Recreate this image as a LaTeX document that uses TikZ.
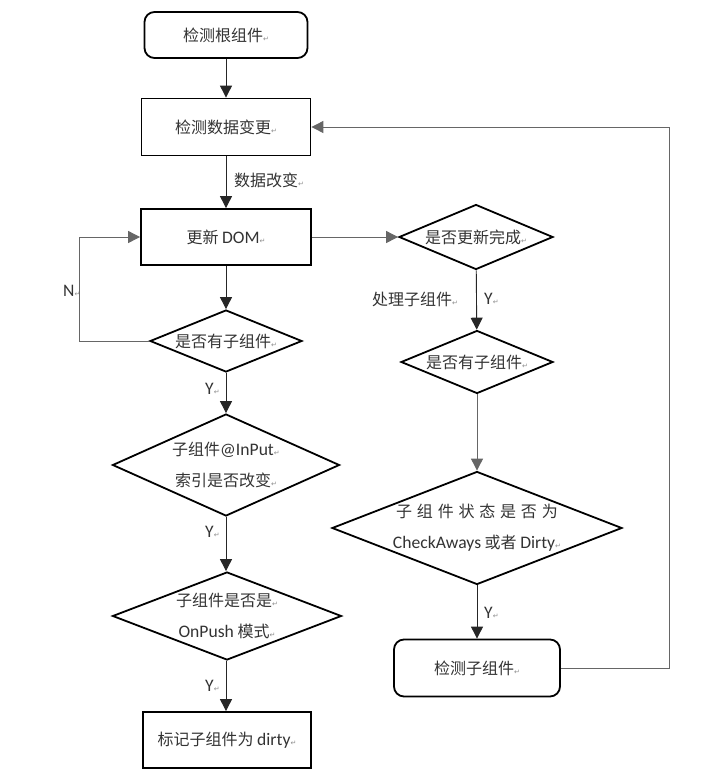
\documentclass[tikz,border=0pt]{standalone}
\usepackage{fontspec}
\setmainfont{Carlito}
\newfontfamily\cjk{Noto Sans CJK SC}
\newfontfamily\lat[Scale=1.1]{Carlito}
\newfontfamily\symb{DejaVu Sans}
\usetikzlibrary{shapes.geometric,arrows.meta}
\newcommand\en[1]{{\lat #1}}
\newcommand\retmark{{\symb\fontsize{7}{7}\selectfont\color{black!45}↵}}

\begin{document}
\begin{tikzpicture}[
        x=1pt, y=-1pt,
        font=\cjk\fontsize{16}{31}\selectfont,
        text=black!80,
        box/.style={draw=black, line width=1.8pt, inner sep=0pt},
        roundbox/.style={box, rounded corners=10pt},
        decision/.style={draw=black, line width=1.8pt, diamond, inner sep=0pt},
        flow/.style={draw=black!85, line width=0.9pt, -{Triangle[length=12pt,width=12pt]}},
        back/.style={flow, draw=black!60},
        note/.style={anchor=west, inner sep=0pt}
      ]
      \useasboundingbox (0,0) rectangle (728,780);

      % left column
      \node[roundbox, minimum width=163, minimum height=46] (root) at (226,35) {检测根组件\retmark};
      \node[box, minimum width=169, minimum height=57] (detect) at (226,127) {检测数据变更\retmark};
      \node[box, minimum width=170, minimum height=56] (dom) at (226,237) {更新 \en{DOM}\retmark};
      \node[decision, minimum width=152, minimum height=62,
            label=center:{是否有子组件\retmark}] (haschild) at (226,341) {};
      \node[decision, minimum width=227, minimum height=102,
            label={[align=center]center:{子组件\en{@InPut}\retmark\\索引是否改变\retmark}}] (input) at (226,465) {};
      \node[decision, minimum width=229, minimum height=88,
            label={[align=center]center:{子组件是否是\retmark\\\en{OnPush} 模式\retmark}}] (onpush) at (227,616) {};
      \node[box, minimum width=168, minimum height=56] (mark) at (227,740) {标记子组件为 \en{dirty}\retmark};

      % right column
      \node[decision, minimum width=154, minimum height=65,
            label=center:{是否更新完成\retmark}] (done) at (476,237) {};
      \node[decision, minimum width=152, minimum height=63,
            label=center:{是否有子组件\retmark}] (haschild2) at (477,362) {};
      \node[decision, minimum width=290, minimum height=113,
            label={[align=center]center:{{\addfontfeature{LetterSpace=30}子组件状态是否为}\\\en{CheckAways} 或者 \en{Dirty}\retmark}}] (state) at (477,528) {};
      \node[roundbox, minimum width=166, minimum height=57] (checkchild) at (477,668) {检测子组件\retmark};

      % labels on the connectors
      \node[note] (datachg) at (234,180) {数据改变\retmark};
      \node[note] (nlab) at (63,291) {\en{N}\retmark};
      \node[note] (proc) at (372,299) {处理子组件\retmark};
      \node[note] (ydone) at (484,299) {\en{Y}\retmark};
      \node[note] (yhas) at (205,389) {\en{Y}\retmark};
      \node[note] (yinput) at (205,532) {\en{Y}\retmark};
      \node[note] (ypush) at (205,686) {\en{Y}\retmark};
      \node[note] (ystate) at (484,613) {\en{Y}\retmark};

      \draw[flow] (root) -- (detect);
      \draw[flow] (detect) -- (dom);
      \draw[flow] (dom) -- (haschild);
      \draw[flow] (haschild) -- (input);
      \draw[flow] (input) -- (onpush.north -| input.south);
      \draw[flow] (onpush.south -| input.south) -- (mark.north -| input.south);
      \draw[back] (dom) -- (done);
      \draw[flow] (done) -- (haschild2);
      \draw[back] (haschild2) -- (state);
      \draw[flow] (state) -- (checkchild);

        % Draw the loops back up
      \draw[back] (haschild.west) -- ++(-70,0) |- (dom.west);
      \draw[back] (checkchild.east) -- ++(109,0) |- (detect.east);

    \end{tikzpicture}
\end{document}
